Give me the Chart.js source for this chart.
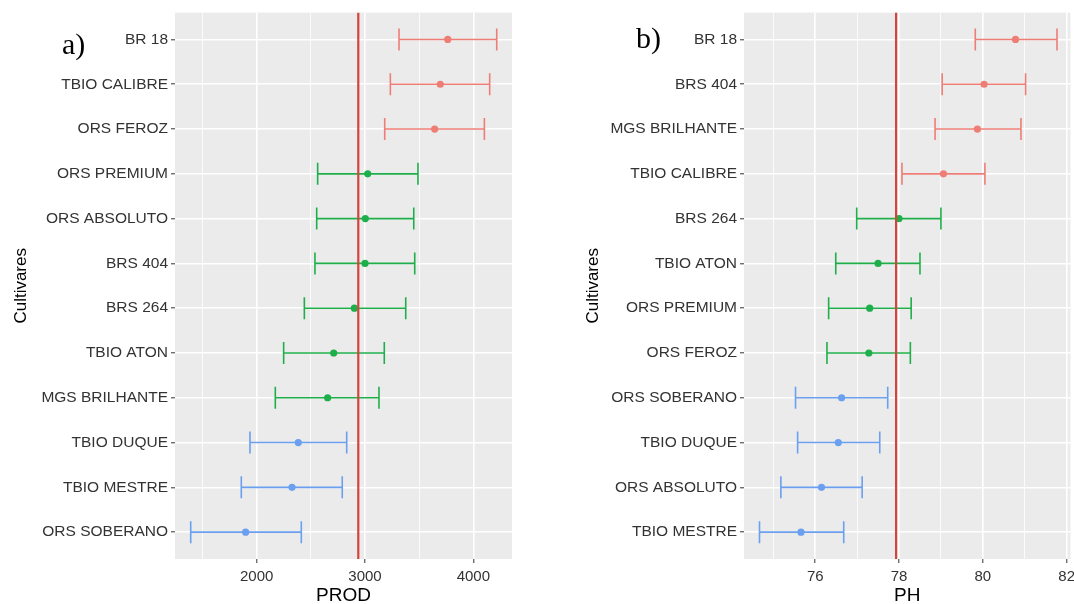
<!DOCTYPE html>
<html>
<head>
<meta charset="utf-8">
<script src="https://cdn.jsdelivr.net/npm/chart.js@4"></script>
<style>
  html, body { margin: 0; padding: 0; background: #fff; }
  #wrap { position: relative; width: 1074px; height: 604px; overflow: hidden; }
  .painel { position: absolute; top: 0; height: 604px; }
  .letra { position: absolute; font-family: "Liberation Serif", "Times New Roman", serif; font-size: 30px; line-height: 30px; color: #000; }
</style>
</head>
<body>
<div id="wrap">
  <div class="painel" style="left:0;width:537px"><canvas id="chartA"></canvas></div>
  <div class="painel" style="left:537px;width:546px"><canvas id="chartB"></canvas></div>
  <div class="letra" style="left:62px;top:29px">a)</div>
  <div class="letra" style="left:636px;top:23px">b)</div>
</div>
<script>
// --- a) PROD ---
const prodCultivares = ['BR 18', 'TBIO CALIBRE', 'ORS FEROZ', 'ORS PREMIUM', 'ORS ABSOLUTO', 'BRS 404',
  'BRS 264', 'TBIO ATON', 'MGS BRILHANTE', 'TBIO DUQUE', 'TBIO MESTRE', 'ORS SOBERANO'];
const prodMedia = [3764, 3695, 3643, 3025, 3003, 3000, 2902, 2711, 2655, 2384, 2326, 1898];
const prodMin = [3314, 3234, 3182, 2563, 2554, 2538, 2440, 2249, 2172, 1938, 1858, 1391];
const prodMax = [4216, 4151, 4102, 3489, 3450, 3459, 3376, 3178, 3129, 2831, 2790, 2412];
const prodGrupo = ['a', 'a', 'a', 'b', 'b', 'b', 'b', 'b', 'b', 'c', 'c', 'c'];
const prodGeral = 2938;
const prodTicks = [1500, 2000, 2500, 3000, 3500, 4000];
const prodTickLabels = ['', '2000', '', '3000', '', '4000'];
const prodLimites = [1246, 4357];

// --- b) PH ---
const phCultivares = ['BR 18', 'BRS 404', 'MGS BRILHANTE', 'TBIO CALIBRE', 'BRS 264', 'TBIO ATON',
  'ORS PREMIUM', 'ORS FEROZ', 'ORS SOBERANO', 'TBIO DUQUE', 'ORS ABSOLUTO', 'TBIO MESTRE'];
const phMedia = [80.78, 80.03, 79.87, 79.06, 78.00, 77.50, 77.30, 77.28, 76.63, 76.55, 76.15, 75.66];
const phMin = [79.82, 79.03, 78.86, 78.07, 76.99, 76.49, 76.32, 76.28, 75.53, 75.58, 75.18, 74.67];
const phMax = [81.77, 81.02, 80.91, 80.05, 79.00, 78.50, 78.29, 78.27, 77.73, 77.54, 77.12, 76.68];
const phGrupo = ['a', 'a', 'a', 'a', 'b', 'b', 'b', 'b', 'c', 'c', 'c', 'c'];
const phGeral = 77.93;
const phTicks = [75, 76, 77, 78, 79, 80, 81, 82];
const phTickLabels = ['', '76', '', '78', '', '80', '', '82'];
const phLimites = [74.30, 82.09];

const CORES = { a: '#ee7d76', b: '#1faf4a', c: '#6b9ff0' };
const COR_MEDIA = '#d6433a';

Chart.defaults.font.family = '"Liberation Sans", Arial, sans-serif';

// grey panel like ggplot
const fundoPainel = {
  id: 'fundoPainel',
  beforeDraw(chart) {
    const { ctx, chartArea: a } = chart;
    ctx.save();
    ctx.fillStyle = '#ebebeb';
    ctx.fillRect(a.left, a.top, a.right - a.left, a.bottom - a.top);
    ctx.restore();
  }
};

function montaDatasets(media, minimo, maximo, grupos, geral, n) {
  const ds = [];
  ['a', 'b', 'c'].forEach(g => {
    const barras = [], pontas = [], pontos = [];
    grupos.forEach((gr, i) => {
      if (gr !== g) return;
      barras.push({ x: minimo[i], y: i }, { x: maximo[i], y: i }, { x: null, y: null });
      pontas.push({ x: minimo[i], y: i }, { x: maximo[i], y: i });
      pontos.push({ x: media[i], y: i });
    });
    ds.push({ data: barras, showLine: true, spanGaps: false, borderColor: CORES[g], borderWidth: 1.6, pointRadius: 0, order: 3 });
    ds.push({ data: pontas, pointStyle: 'line', pointRotation: 90, pointRadius: 11,
      pointBorderColor: CORES[g], pointBorderWidth: 1.6, order: 2 });
    ds.push({ data: pontos, pointRadius: 3.6, pointBackgroundColor: CORES[g], pointBorderWidth: 0, order: 1 });
  });
  // overall mean line
  ds.push({ data: [{ x: geral, y: -0.6 }, { x: geral, y: n - 0.4 }], showLine: true,
    borderColor: COR_MEDIA, borderWidth: 2.2, pointRadius: 0, order: 0 });
  return ds;
}

function montaPainel(id, cfg) {
  const n = cfg.cultivares.length;
  return new Chart(document.getElementById(id), {
    type: 'scatter',
    data: { datasets: montaDatasets(cfg.media, cfg.minimo, cfg.maximo, cfg.grupos, cfg.geral, n) },
    plugins: [fundoPainel],
    options: {
      responsive: true,
      maintainAspectRatio: false,
      animation: false,
      events: [],
      layout: { padding: { top: 12, right: cfg.padDir, bottom: 0, left: 0 } },
      plugins: { legend: { display: false }, tooltip: { enabled: false } },
      scales: {
        x: {
          type: 'linear',
          min: cfg.limites[0],
          max: cfg.limites[1],
          afterBuildTicks: s => { s.ticks = cfg.ticks.map(v => ({ value: v })); },
          afterFit: s => { s.height = 45; s.paddingLeft = 0; s.paddingRight = 0; },
          ticks: { callback: (v, i) => cfg.tickLabels[i], autoSkip: false, maxRotation: 0,
            color: '#333', font: { size: 15 }, padding: 5 },
          grid: {
            color: '#ffffff',
            lineWidth: c => cfg.tickLabels[c.index] ? 1.6 : 0.8,
            tickColor: c => cfg.tickLabels[c.index] ? '#333' : 'rgba(0,0,0,0)',
            tickLength: 4,
            tickWidth: 1
          },
          border: { display: false },
          title: { display: true, text: cfg.tituloX, color: '#000', font: { size: 19, lineHeight: 1 },
            padding: { top: 0, bottom: -1.5 } }
        },
        y: {
          type: 'linear',
          reverse: true,
          min: -0.6,
          max: n - 0.4,
          afterBuildTicks: s => { s.ticks = cfg.cultivares.map((c, i) => ({ value: i })); },
          afterFit: s => { s.width = cfg.larguraY; s.paddingTop = 0; s.paddingBottom = 0; },
          ticks: { callback: v => cfg.cultivares[v], autoSkip: false, color: '#333', font: { size: 15.5 }, padding: 3 },
          grid: { color: '#ffffff', lineWidth: 1.6, tickColor: '#333', tickLength: 4, tickWidth: 1 },
          border: { display: false },
          title: { display: true, text: 'Cultivares', color: '#000', font: { size: 17 },
            padding: { top: cfg.padTitulo, bottom: 0 } }
        }
      }
    }
  });
}

montaPainel('chartA', {
  cultivares: prodCultivares, media: prodMedia, minimo: prodMin, maximo: prodMax, grupos: prodGrupo,
  geral: prodGeral, ticks: prodTicks, tickLabels: prodTickLabels, limites: prodLimites,
  tituloX: 'PROD', larguraY: 175, padDir: 25, padTitulo: 11
});

montaPainel('chartB', {
  cultivares: phCultivares, media: phMedia, minimo: phMin, maximo: phMax, grupos: phGrupo,
  geral: phGeral, ticks: phTicks, tickLabels: phTickLabels, limites: phLimites,
  tituloX: 'PH', larguraY: 207, padDir: 12, padTitulo: 46
});
</script>
</body>
</html>
